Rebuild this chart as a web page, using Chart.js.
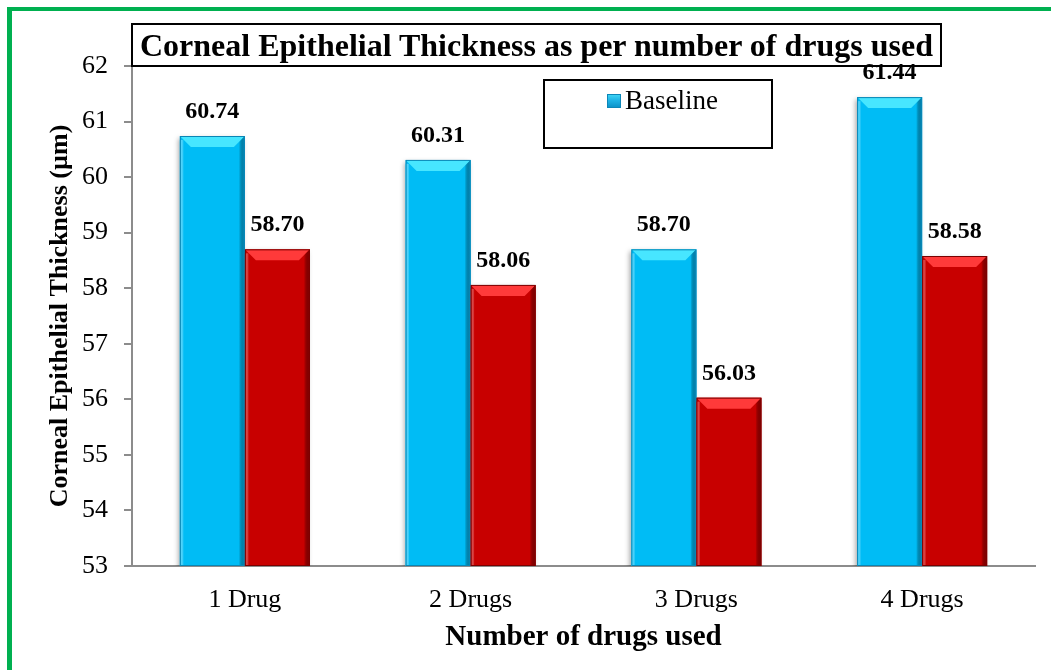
<!DOCTYPE html>
<html>
<head>
<meta charset="utf-8">
<script src="https://cdn.jsdelivr.net/npm/chart.js@4/dist/chart.umd.min.js"></script>
<style>
html,body{margin:0;padding:0;background:#fff;}
#wrap{position:relative;width:1051px;height:670px;overflow:hidden;font-family:"Liberation Serif","Times New Roman",serif;}
#frameTop{position:absolute;left:7px;top:7px;width:1044px;height:4px;background:#00B050;}
#frameLeft{position:absolute;left:7px;top:7px;width:5px;height:663px;background:#00B050;}
#title{position:absolute;left:131px;top:23px;width:807px;height:40px;border:2px solid #000;background:transparent;
 font-weight:bold;font-size:32px;line-height:40px;text-align:center;white-space:nowrap;}
#legend{position:absolute;left:543px;top:79px;width:226px;height:66px;border:2px solid #000;}
#legend .item{position:absolute;left:62px;top:3px;font-size:27px;line-height:32px;white-space:nowrap;}
#legend .sw{display:inline-block;width:14px;height:14px;vertical-align:1px;margin-right:4px;
 background:linear-gradient(to bottom,#43d8f5 0%,#1fb3e6 45%,#0a8fc6 100%);box-shadow:inset 0 0 0 1px #0c86b8;}
canvas{position:absolute;left:0;top:0;}
</style>
</head>
<body>
<div id="wrap">
<canvas id="grafik" width="1051" height="670"></canvas>
<div id="frameTop"></div>
<div id="frameLeft"></div>
<div id="title">Corneal Epithelial Thickness as per number of drugs used</div>
<div id="legend"><div class="item"><span class="sw"></span>Baseline</div></div>
</div>
<script>
const categories = ['1 Drug','2 Drugs','3 Drugs','4 Drugs'];
const baseline = [60.74, 60.31, 58.70, 61.44];
const followUp = [58.70, 58.06, 56.03, 58.58];
const yTicks = [53,54,55,56,57,58,59,60,61,62];

const serif = '"Liberation Serif","Times New Roman",serif';

// bevel look like the office chart
const bevel = {
id:'bevel',
beforeDatasetsDraw(chart){
const c = chart.ctx;
c.save();
c.shadowColor = 'rgba(0,0,0,0.35)';
c.shadowBlur = 5;
c.shadowOffsetX = -2;
c.shadowOffsetY = 2;
},
afterDatasetsDraw(chart){
const c = chart.ctx;
c.restore();
const area = chart.chartArea;
const looks = [
{top:'#47e6ff',left:'#2fd0ff',right:'#0795c9',edge:'#0a86b5'},
{top:'#ff3a3a',left:'#e01010',right:'#8f0000',edge:'#7a0000'}
];
chart.data.datasets.forEach((ds,di)=>{
const meta = chart.getDatasetMeta(di);
const lk = looks[di];
meta.data.forEach((bar,i)=>{
const p = bar.getProps(['x','y','base','width'],true);
const l = p.x - p.width/2, r = p.x + p.width/2, t = p.y;
const b = Math.min(p.base, area.bottom);
const d = 11;
c.save();
// top bevel
c.fillStyle = lk.top;
c.beginPath();
c.moveTo(l,t);c.lineTo(r,t);c.lineTo(r-d,t+d);c.lineTo(l+d,t+d);c.closePath();c.fill();
// right edge
let g = c.createLinearGradient(r-6,0,r,0);
g.addColorStop(0,'rgba(0,0,0,0)');
g.addColorStop(1,lk.right);
c.fillStyle = g;
c.beginPath();
c.moveTo(r,t);c.lineTo(r,b);c.lineTo(r-6,b);c.lineTo(r-6,t+6);c.closePath();c.fill();
// left edge
g = c.createLinearGradient(l,0,l+4,0);
g.addColorStop(0,lk.left);
g.addColorStop(1,'rgba(255,255,255,0)');
c.fillStyle = g;
c.fillRect(l,t+4,4,b-t-4);
c.strokeStyle = lk.edge;
c.lineWidth = 1;
c.strokeRect(l+0.5,t+0.5,p.width-1,b-t-1);
// value label
c.fillStyle = '#000';
c.font = 'bold 24px ' + serif;
c.textAlign = 'center';
c.textBaseline = 'alphabetic';
c.fillText(ds.data[i].toFixed(2), p.x, t - 18);
c.restore();
});
});
}
};

const ctx = document.getElementById('grafik');

const chart = new Chart(ctx,{
type:'bar',
data:{
labels:categories,
datasets:[
{label:'Baseline',data:baseline,backgroundColor:'#00bcf5',borderWidth:0},
{label:'Follow-up',data:followUp,backgroundColor:'#c80000',borderWidth:0}
]
},
options:{
responsive:false,
animation:false,
layout:{padding:{left:0,top:66,right:16,bottom:0}},
datasets:{bar:{barPercentage:1,categoryPercentage:0.576}},
plugins:{legend:{display:false},title:{display:false},tooltip:{enabled:false}},
scales:{
x:{
grid:{display:false},
border:{display:true,color:'#8c8c8c',width:2},
ticks:{color:'#000',padding:11,font:{family:serif,size:26}},
title:{display:true,text:'Number of drugs used',color:'#000',
font:{family:serif,size:29,weight:'bold'},padding:{top:0,bottom:15}},
afterFit(s){s.height = 104;}
},
y:{
min:53,max:62,
afterBuildTicks(s){s.ticks = yTicks.map(v=>({value:v}));},
grid:{drawOnChartArea:false,drawTicks:true,tickLength:8,color:'#8c8c8c',lineWidth:2},
border:{display:true,color:'#8c8c8c',width:2},
ticks:{color:'#000',padding:16,font:{family:serif,size:26}},
title:{display:true,text:'Corneal Epithelial Thickness (µm)',color:'#000',
font:{family:serif,size:26,weight:'bold'},padding:{top:45,bottom:0}},
afterFit(s){s.width = 132;}
}
}
},
plugins:[bevel]
});
</script>
</body>
</html>
